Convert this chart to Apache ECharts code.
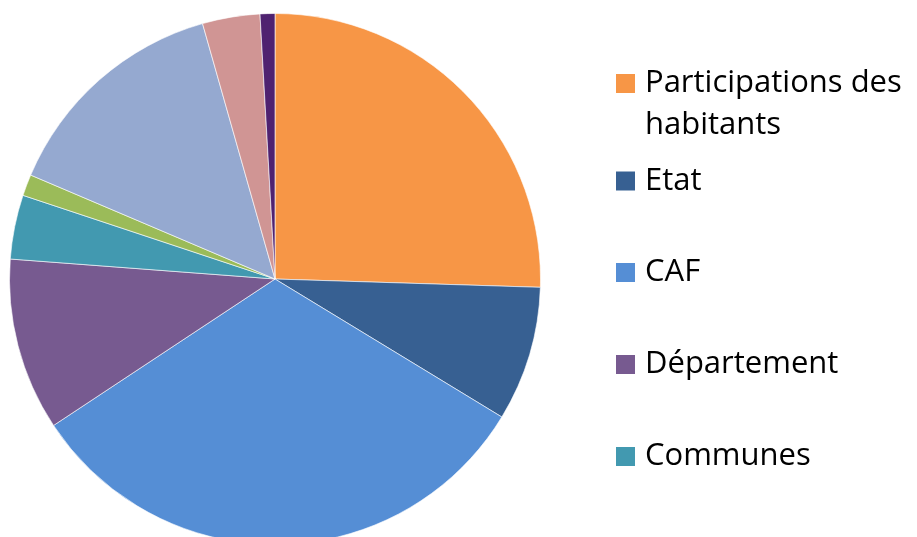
<!DOCTYPE html>
<html>
<head>
<meta charset="utf-8">
<script src="https://cdn.jsdelivr.net/npm/echarts@6/dist/echarts.min.js"></script>
<style>
html,body{margin:0;padding:0;background:#fff;}
#chart{width:917px;height:537px;}
</style>
</head>
<body>
<div id="chart"></div>
<script>
// Data (shares in %)
var categories = ['Participations des habitants', 'Etat', 'CAF', 'Département', 'Communes',
  'Autres collectivités', 'Fonds propres', 'Autres produits', 'Divers'];
var values = [25.5, 8.2, 32.0, 10.5, 3.9, 1.3, 14.2, 3.5, 0.9];
var colors = ['#F79646', '#376092', '#558ED5', '#775A90', '#4299B0', '#9BBB59', '#95A9D0', '#D09594', '#4F2270'];
var legendShown = ['Participations des habitants', 'Etat', 'CAF', 'Département', 'Communes'];

var chart = echarts.init(document.getElementById('chart'), null, {renderer: 'canvas'});

var font = 'Open Sans';
var fsize = 31;
var iconCenters = [83.5, 176, 267.5, 359.5, 451.5];
var legends = legendShown.map(function (name, i) {
  var multi = (i === 0);
  return {
    data: [name],
    left: 614,
    top: multi ? iconCenters[i] - 63 : iconCenters[i] - 10.5,
    orient: 'vertical',
    padding: 0,
    icon: 'rect',
    itemWidth: 21,
    itemHeight: 21,
    itemGap: 0,
    selectedMode: false,
    formatter: multi ? function () { return ' \nParticipations des\nhabitants'; } : '{name}',
    textStyle: {
      fontFamily: font, fontSize: fsize, color: '#000', lineHeight: multi ? 42 : 21,
      padding: [0, 0, 0, 4]
    }
  };
});

chart.setOption({
  animation: false,
  color: colors,
  legend: legends,
  series: [{
    type: 'pie',
    center: [275, 279],
    radius: [0, 265.5],
    startAngle: 90,
    clockwise: true,
    label: {show: false},
    labelLine: {show: false},
    emphasis: {disabled: true},
    itemStyle: {borderColor: '#ffffff', borderWidth: 0.6},
    data: categories.map(function (c, i) {
      return {name: c, value: values[i]};
    })
  }]
});
</script>
</body>
</html>
